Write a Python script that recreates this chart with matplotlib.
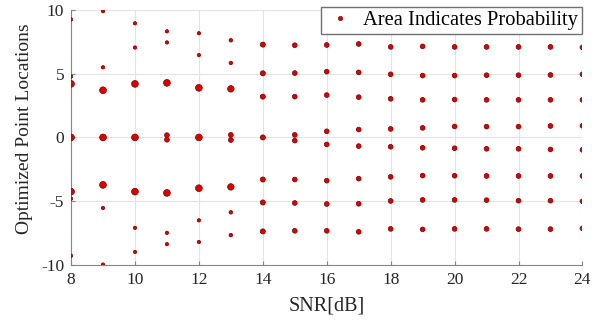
import matplotlib
matplotlib.use("Agg")
import matplotlib.pyplot as plt
from matplotlib.lines import Line2D

plt.rcParams['font.family'] = ['Liberation Serif', 'DejaVu Serif']
plt.rcParams['axes.unicode_minus'] = False

# SNR values (dB) on the x axis
snr = [8, 9, 10, 11, 12, 13, 14, 15, 16, 17, 18, 19, 20, 21, 22, 23, 24]

# optimized point locations for each SNR
point_locations = [
    [9.25, 4.78, 4.2, 0.0, -4.25, -4.8, -9.28],
    [9.9, 5.5, 3.7, 0.0, -3.72, -5.53, -9.97],
    [8.95, 7.05, 4.2, 0.0, -4.25, -7.09, -8.98],
    [8.32, 7.45, 4.28, 0.18, -0.18, -4.35, -7.48, -8.37],
    [8.17, 6.46, 3.89, 0.0, -3.98, -6.5, -8.2],
    [7.62, 5.84, 3.81, 0.2, -0.2, -3.88, -5.87, -7.66],
    [7.28, 5.03, 3.2, 0.0, -3.3, -5.1, -7.37],
    [7.23, 5.05, 3.2, 0.2, -0.25, -3.3, -5.14, -7.32],
    [7.25, 5.16, 3.32, 0.48, -0.55, -3.39, -5.22, -7.32],
    [7.33, 5.1, 3.16, 0.62, -0.68, -3.23, -5.2, -7.4],
    [7.1, 4.95, 3.03, 0.67, -0.73, -3.09, -4.98, -7.17],
    [7.14, 4.85, 2.95, 0.75, -0.81, -2.99, -4.9, -7.21],
    [7.1, 4.85, 2.97, 0.86, -0.85, -3.0, -4.9, -7.17],
    [7.1, 4.88, 2.95, 0.85, -0.89, -3.02, -4.92, -7.17],
    [7.1, 4.88, 2.95, 0.85, -0.89, -3.02, -4.96, -7.19],
    [7.1, 4.9, 2.95, 0.9, -0.94, -3.02, -4.96, -7.19],
    [7.06, 4.95, 2.95, 0.92, -0.97, -3.02, -5.01, -7.13],
]

# probability of each point (marker area is proportional to it)
point_probs = [
    [0.0625, 0.0625, 0.25, 0.25, 0.25, 0.0625, 0.0625],
    [0.0625, 0.0625, 0.25, 0.25, 0.25, 0.0625, 0.0625],
    [0.0625, 0.0625, 0.25, 0.25, 0.25, 0.0625, 0.0625],
    [0.0625, 0.0625, 0.25, 0.125, 0.125, 0.25, 0.0625, 0.0625],
    [0.0625, 0.0625, 0.25, 0.25, 0.25, 0.0625, 0.0625],
    [0.07, 0.07, 0.23, 0.13, 0.13, 0.23, 0.07, 0.07],
    [1/7, 1/7, 1/7, 1/7, 1/7, 1/7, 1/7],
] + [[0.125] * 8 for _ in range(10)]

size_scale = 95
face = '#e00000'
edge = '#7a0000'

fig = plt.figure(figsize=(6.02, 3.20), dpi=100)
ax = fig.add_axes([0.118, 0.172, 0.8495, 0.797])

for s, locs, probs in zip(snr, point_locations, point_probs):
    ax.scatter([s] * len(locs), locs, s=[p * size_scale for p in probs],
               c=face, edgecolors=edge, linewidths=0.5, zorder=3)

ax.set_xlim(8, 24)
ax.set_ylim(-10, 10)
ax.set_xticks(range(8, 25, 2))
ax.set_yticks([-10, -5, 0, 5, 10])
ax.grid(True, color='#e3e3e3', linewidth=0.8)
ax.set_axisbelow(True)

for side in ['top', 'right']:
    ax.spines[side].set_visible(False)
for side in ['left', 'bottom']:
    ax.spines[side].set_color('#858585')
    ax.spines[side].set_linewidth(0.8)
ax.tick_params(direction='in', length=3, width=0.8, color='#858585',
               labelsize=12.5, labelcolor='#262626', pad=5)

ax.set_xlabel('SNR[dB]', fontsize=14.5, color='#262626')
ax.set_ylabel('Optimized Point Locations', fontsize=14, color='#262626')
ax.xaxis.set_label_coords(0.5, -0.125)
ax.yaxis.set_label_coords(-0.075, 0.535)

handle = Line2D([], [], linestyle='none', marker='o', markersize=3.2,
                markerfacecolor=face, markeredgecolor=edge, markeredgewidth=0.4)
leg = ax.legend([handle], ['Area Indicates Probability'], loc='upper right',
                bbox_to_anchor=(1.0, 1.012), borderaxespad=0, fontsize=14.8,
                fancybox=False, framealpha=1, edgecolor='#707070',
                borderpad=0.2, handlelength=1.46, handletextpad=0.4)
leg.get_frame().set_linewidth(1.0)

fig.savefig('out.png', dpi=100)
